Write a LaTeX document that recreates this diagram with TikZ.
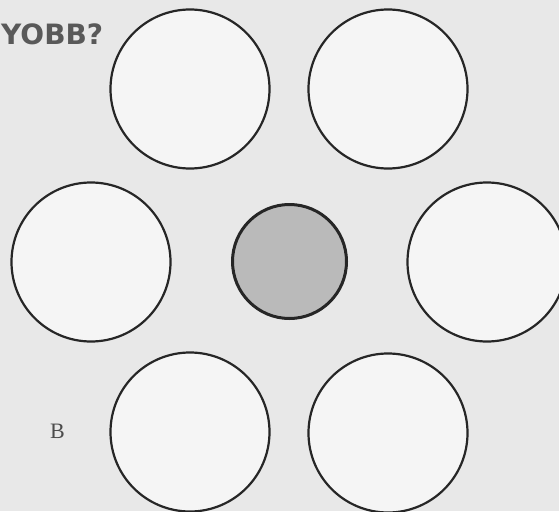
\documentclass[tikz,border=0pt]{standalone}
\usepackage{fontspec}
\newfontfamily\heavyfont{DejaVu Sans}
\setmainfont{Liberation Serif}
\begin{document}
\begin{tikzpicture}[x=1pt,y=-1pt,
  outer/.style={circle,draw=black!85,line width=2.2pt,fill=white!96!black,minimum size=159pt,inner sep=0pt},
  inner/.style={circle,draw=black!85,line width=3pt,fill=black!27,minimum size=114pt,inner sep=0pt}]
\fill[black!9] (0,0) rectangle (559,511);
\useasboundingbox (0,0) rectangle (559,511);
\node[outer] (tl) at (190,89) {};
\node[outer] (tr) at (388,89) {};
\node[outer] (ml) at (91,262) {};
\node[outer] (mr) at (487,262) {};
\node[outer] (bl) at (190,432) {};
\node[outer] (br) at (388,433) {};
\node[inner] (c) at (289.5,261.5) {};
\node[anchor=base west,inner sep=0pt,text=black!65,font=\heavyfont\bfseries\fontsize{28}{30}\selectfont] (title) at (1,45) {YOBB?};
\node[anchor=base west,inner sep=0pt,text=black!70,font=\fontsize{22}{24}\selectfont] (b) at (50,438) {B};
\end{tikzpicture}
\end{document}
